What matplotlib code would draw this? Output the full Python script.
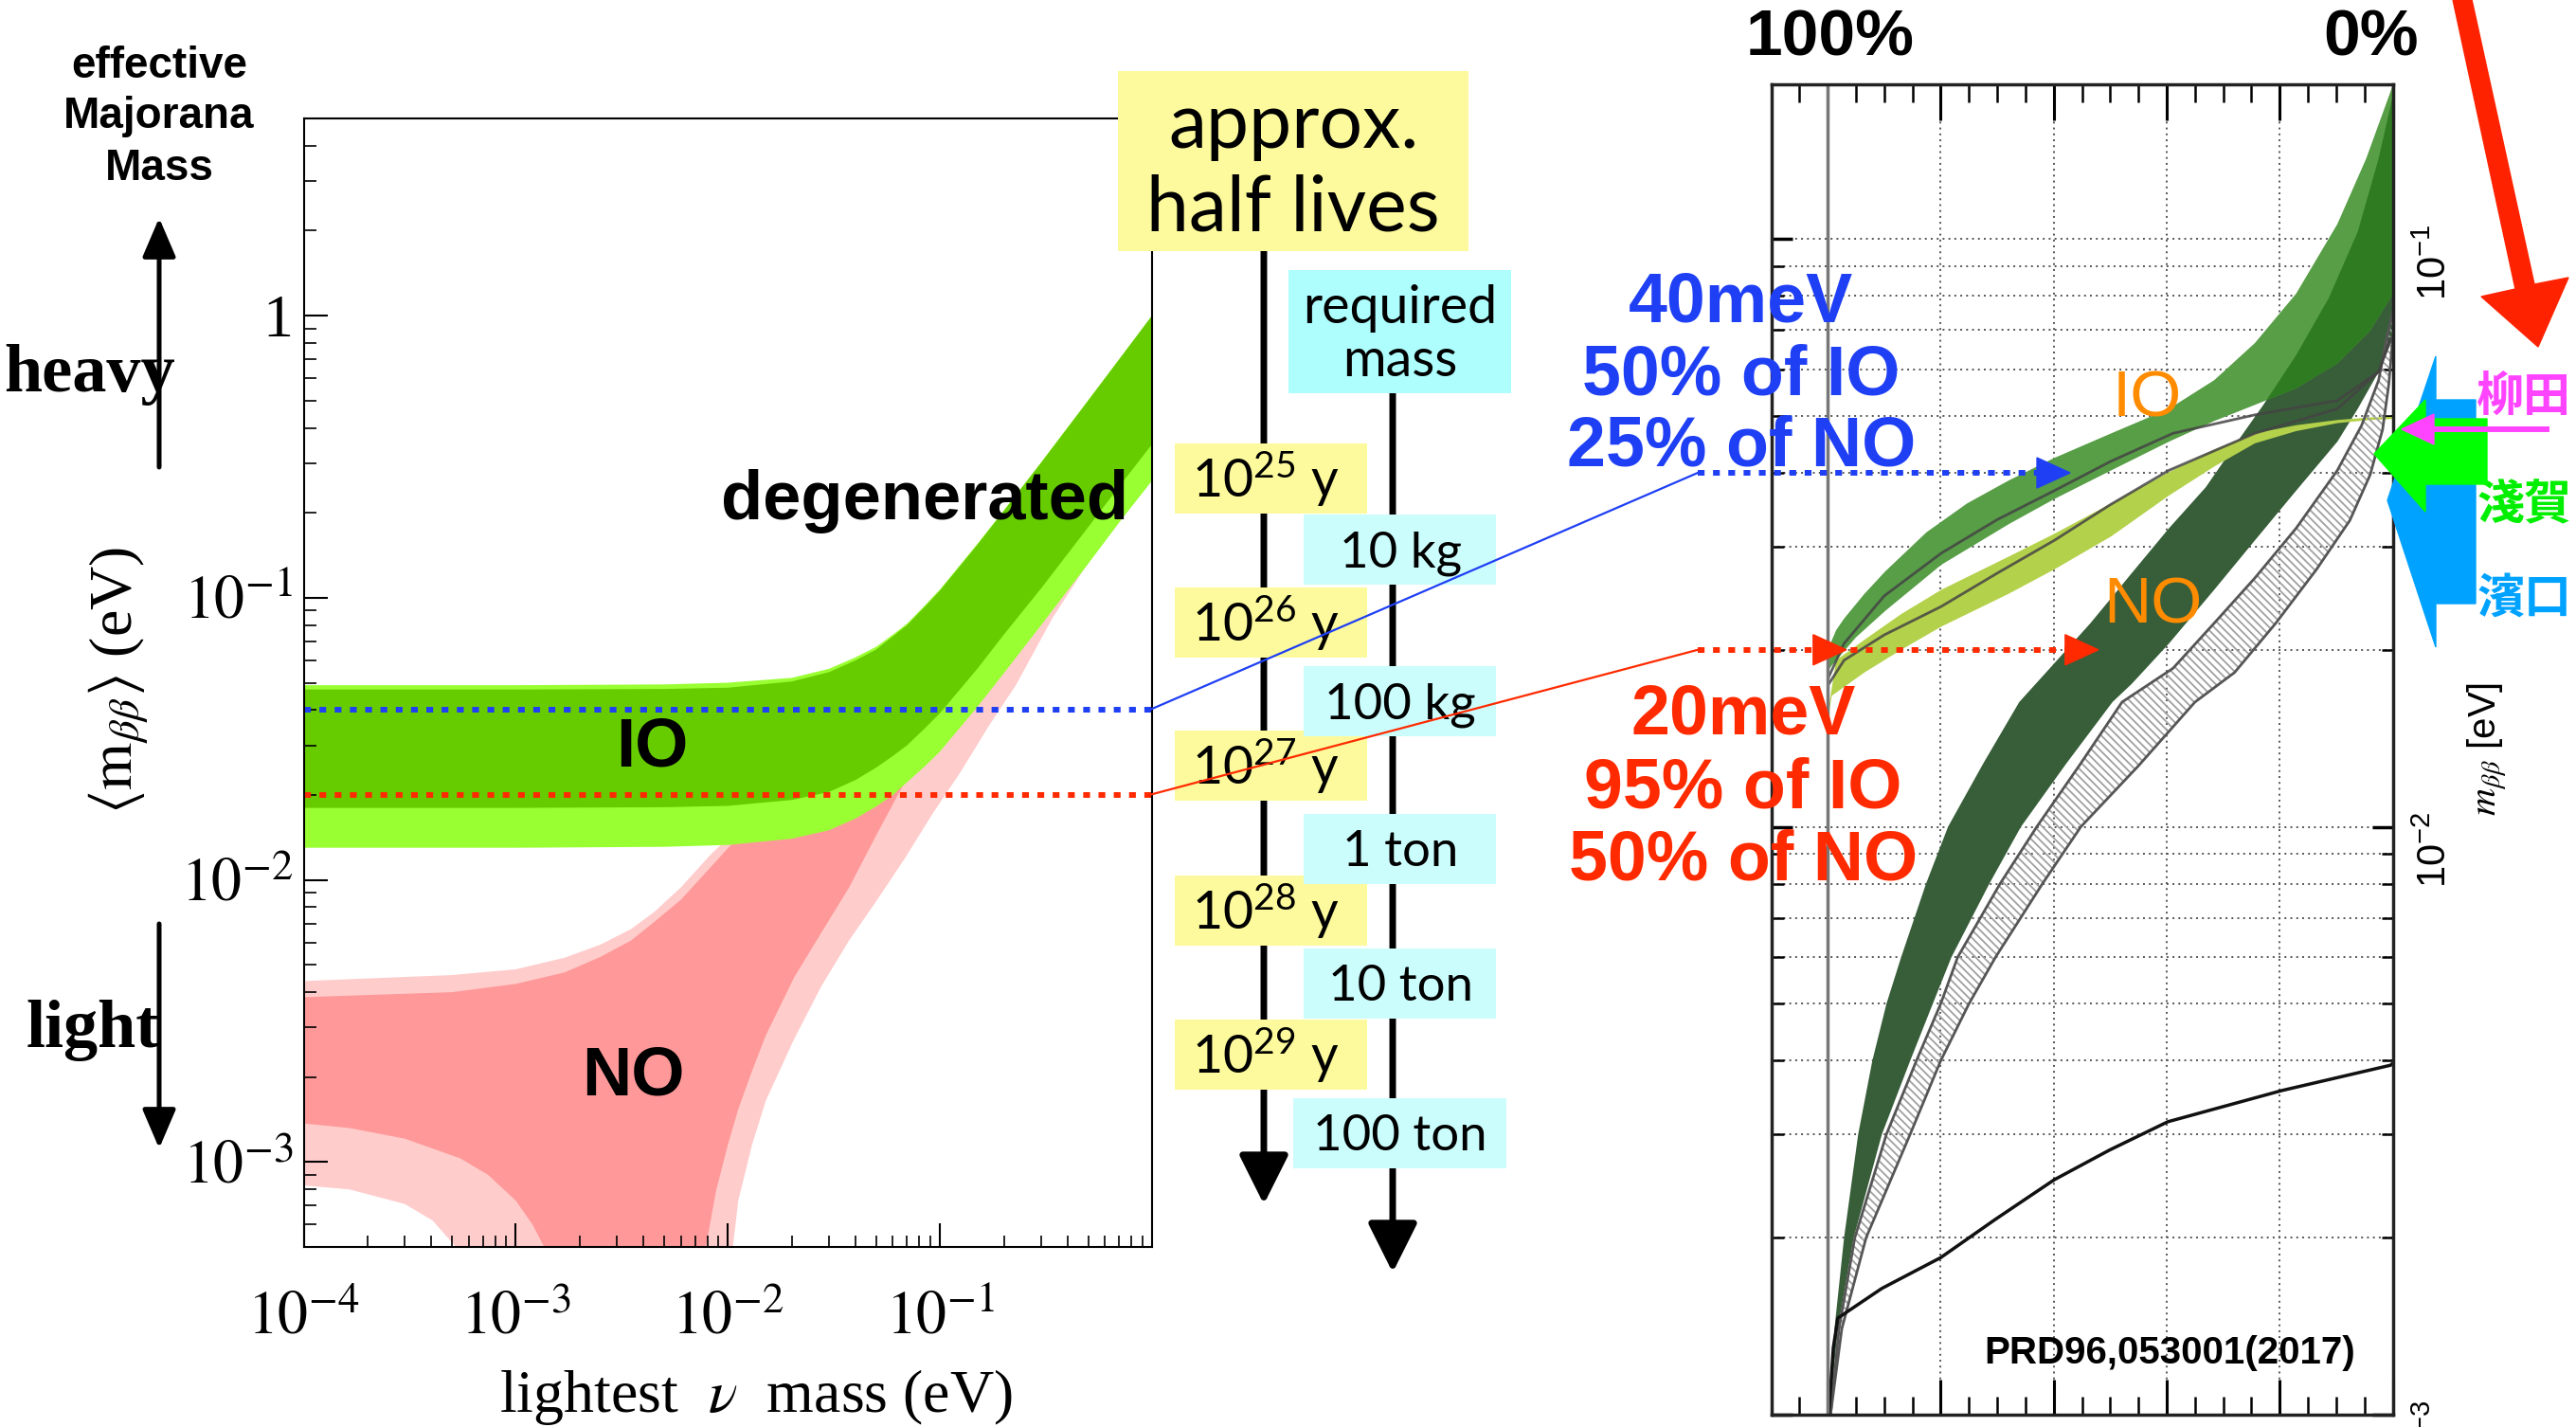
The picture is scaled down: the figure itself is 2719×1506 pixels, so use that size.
import numpy as np
import matplotlib.pyplot as plt
from matplotlib.patches import Polygon, Rectangle
from matplotlib.ticker import LogLocator, NullFormatter, MultipleLocator

plt.rcParams['mathtext.fontset'] = 'stix'
plt.rcParams['hatch.linewidth'] = 1.3

W, H = 2719, 1506

# ---------------- left plot: <m_bb> vs lightest neutrino mass (eV)
m_io = [1e-4, 1e-3, 5e-3, 1e-2, 2e-2, 3e-2, 4e-2, 5e-2, 6e-2, 7e-2, 8.5e-2, 0.1, 0.15, 0.2, 0.3, 0.5, 0.7, 1.0]
io_3s_hi = [0.049, 0.049, 0.0493, 0.050, 0.052, 0.056, 0.0615, 0.067, 0.074, 0.081, 0.094, 0.107, 0.155, 0.204, 0.302, 0.501, 0.70, 1.0]
io_1s_hi = [0.0473, 0.0473, 0.0475, 0.048, 0.0505, 0.0545, 0.060, 0.0655, 0.073, 0.080, 0.093, 0.106, 0.154, 0.203, 0.301, 0.50, 0.70, 1.0]
io_1s_lo = [0.0180, 0.0180, 0.0181, 0.0183, 0.0192, 0.0205, 0.0226, 0.0250, 0.0275, 0.0300, 0.0345, 0.0390, 0.0560, 0.0740, 0.108, 0.178, 0.248, 0.35]
io_3s_lo = [0.0130, 0.0130, 0.0131, 0.0133, 0.0140, 0.0150, 0.0165, 0.0182, 0.0200, 0.0222, 0.0253, 0.0285, 0.0410, 0.0540, 0.0800, 0.132, 0.185, 0.26]

m_no_hi = [1e-4, 5e-4, 1e-3, 1.7e-3, 2.5e-3, 3.5e-3, 4.5e-3, 6e-3, 8.3e-3, 1.1e-2, 2e-2, 5e-2, 0.1, 0.3, 1.0]
no_3s_hi = [0.00438, 0.0046, 0.00482, 0.0053, 0.00589, 0.0067, 0.0077, 0.0094, 0.0123, 0.0150, 0.024, 0.053, 0.103, 0.29, 0.97]
no_1s_hi = [0.00384, 0.0040, 0.00428, 0.0047, 0.00533, 0.0061, 0.0071, 0.0085, 0.0111, 0.0140, 0.023, 0.052, 0.101, 0.29, 0.97]

# lower edges (1e-6 = cancellation, i.e. m_bb -> 0)
m_no3_lo = [1e-4, 1.64e-4, 3.0e-4, 4.06e-4, 5.48e-4, 6.0e-4, 1.0e-2, 1.05e-2, 1.12e-2, 1.3e-2, 1.51e-2,
            2.05e-2, 2.76e-2, 3.73e-2, 5.06e-2, 6.82e-2, 9.25e-2, 0.125, 0.169, 0.228, 0.34, 0.5, 1.0]
no_3s_lo = [0.000826, 0.0008, 0.00071, 0.00062, 0.00048, 1e-6, 1e-6, 0.00048, 0.00073, 0.00115, 0.00165,
            0.00272, 0.0042, 0.0061, 0.0085, 0.0119, 0.0172, 0.0241, 0.0349, 0.049, 0.085, 0.133, 0.262]
m_no1_lo = [1e-4, 1.64e-4, 3.0e-4, 5.48e-4, 7.41e-4, 1.0e-3, 1.2e-3, 1.4e-3, 1.5e-3, 7.6e-3, 7.8e-3,
            8.8e-3, 1.0e-2, 1.12e-2, 1.3e-2, 1.51e-2, 2.05e-2, 2.76e-2, 3.73e-2, 5.06e-2, 7e-2, 0.1, 0.3, 1.0]
no_1s_lo = [0.00137, 0.00132, 0.00121, 0.00103, 0.0009, 0.00073, 0.0006, 0.00048, 1e-6, 1e-6, 0.00048,
            0.00079, 0.00115, 0.00154, 0.0021, 0.00281, 0.0045, 0.0065, 0.0094, 0.0146, 0.023, 0.032, 0.10, 0.33]

x_ticks = [1e-4, 1e-3, 1e-2, 1e-1]
x_labels = [r'$10^{-4}$', r'$10^{-3}$', r'$10^{-2}$', r'$10^{-1}$']
y_ticks = [1, 1e-1, 1e-2, 1e-3]
y_labels = ['1', r'$10^{-1}$', r'$10^{-2}$', r'$10^{-3}$']

thresholds = [0.04, 0.02]  # eV

# ---------------- right plot (PRD96,053001): probability vs m_bb
io_hi_p = [0.998, 0.996, 0.985, 0.971, 0.935, 0.898, 0.825, 0.753, 0.680, 0.599, 0.498, 0.396, 0.316, 0.244, 0.171, 0.098, 0.047, 0.004, 0.0]
io_hi_m = [0.0185, 0.0204, 0.0216, 0.0226, 0.0249, 0.0272, 0.0317, 0.0355, 0.0388, 0.0424, 0.0467, 0.0514, 0.0575, 0.0665, 0.0807, 0.106, 0.137, 0.178, 0.183]
io_lo_p = [0.998, 0.993, 0.95, 0.898, 0.799, 0.680, 0.599, 0.498, 0.396, 0.316, 0.244, 0.171, 0.098, 0.040, 0.004, 0.0]
io_lo_m = [0.0185, 0.0188, 0.0210, 0.0233, 0.0279, 0.0327, 0.0361, 0.0404, 0.0452, 0.0490, 0.0522, 0.0557, 0.0614, 0.0698, 0.0794, 0.080]

yg_hi_p = [0.998, 0.985, 0.935, 0.87, 0.799, 0.680, 0.599, 0.498, 0.396, 0.316, 0.244, 0.171, 0.098, 0.040, 0.0]
yg_hi_m = [0.0160, 0.0192, 0.0208, 0.0230, 0.0253, 0.0288, 0.0315, 0.0355, 0.0401, 0.0438, 0.0467, 0.0482, 0.0492, 0.0497, 0.0498]
yg_lo_p = [0.998, 0.993, 0.935, 0.87, 0.799, 0.680, 0.599, 0.498, 0.396, 0.316, 0.244, 0.171, 0.098, 0.040, 0.0]
yg_lo_m = [0.0155, 0.0167, 0.0183, 0.0200, 0.0219, 0.0249, 0.0274, 0.0312, 0.0366, 0.0410, 0.0449, 0.0471, 0.0486, 0.0492, 0.0494]

no_l_p = [0.997, 0.988, 0.971, 0.946, 0.921, 0.896, 0.870, 0.826, 0.787, 0.725, 0.661, 0.607, 0.535, 0.462, 0.396, 0.331, 0.280, 0.229, 0.171, 0.113, 0.062, 0.025, 0.0]
no_l_m = [0.0010, 0.0014, 0.0020, 0.0030, 0.0040, 0.0050, 0.0060, 0.0080, 0.0100, 0.0128, 0.0163, 0.0186, 0.0222, 0.0270, 0.0322, 0.0378, 0.0445, 0.0522, 0.0634, 0.0794, 0.1028, 0.137, 0.175]
no_r_p = [0.997, 0.982, 0.954, 0.904, 0.854, 0.814, 0.781, 0.714, 0.658, 0.578, 0.496, 0.462, 0.396, 0.316, 0.244, 0.171, 0.098, 0.062, 0.025, 0.0]
no_r_m = [0.0010, 0.0014, 0.0020, 0.0030, 0.0040, 0.0050, 0.0060, 0.0080, 0.0100, 0.0128, 0.0163, 0.0175, 0.0205, 0.0253, 0.0307, 0.0373, 0.0452, 0.0514, 0.0594, 0.0676]

hat_l_p = [0.995, 0.980, 0.952, 0.896, 0.843, 0.800, 0.770, 0.695, 0.630, 0.555, 0.479, 0.389, 0.316, 0.244, 0.171, 0.098, 0.055, 0.025, 0.011, 0.0]
hat_l_m = [0.0010, 0.0014, 0.0020, 0.0030, 0.0040, 0.0050, 0.0060, 0.0080, 0.0100, 0.0127, 0.0163, 0.0186, 0.0222, 0.0265, 0.0322, 0.0404, 0.0482, 0.0575, 0.0676, 0.075]
hat_r_p = [0.995, 0.975, 0.932, 0.854, 0.800, 0.750, 0.703, 0.620, 0.552, 0.450, 0.350, 0.280, 0.207, 0.135, 0.076, 0.040, 0.018, 0.007, 0.0]
hat_r_m = [0.0010, 0.0014, 0.0020, 0.0030, 0.0040, 0.0050, 0.0060, 0.0080, 0.0100, 0.0127, 0.0163, 0.0183, 0.0222, 0.0274, 0.0332, 0.0397, 0.0474, 0.0566, 0.068]

g1_p = [0.998, 0.971, 0.9, 0.799, 0.7, 0.599, 0.5, 0.389, 0.244, 0.098, 0.025, 0.004]
g1_m = [0.0180, 0.0205, 0.0247, 0.0292, 0.0333, 0.0373, 0.0418, 0.0467, 0.0502, 0.0531, 0.0594, 0.0676]
g2_p = [0.998, 0.971, 0.9, 0.799, 0.7, 0.599, 0.5, 0.396, 0.244, 0.098, 0.025, 0.004]
g2_m = [0.0175, 0.0192, 0.0212, 0.0237, 0.0270, 0.0307, 0.0353, 0.0404, 0.0467, 0.0514, 0.0594, 0.0676]

bk_p = [0.998, 0.990, 0.982, 0.904, 0.800, 0.703, 0.599, 0.501, 0.398, 0.196, 0.004, 0.0]
bk_m = [0.0010, 0.0013, 0.00146, 0.00164, 0.00185, 0.00215, 0.00251, 0.00282, 0.00315, 0.00356, 0.00393, 0.00396]

blue_tips = [0.571]          # probability reached at 40 meV
red_tips = [0.967, 0.521]    # probability reached at 20 meV

r_ticks = [1e-3, 1e-2, 1e-1]
r_labels = [r'$\mathregular{10^{-3}}$', r'$\mathregular{10^{-2}}$', r'$\mathregular{10^{-1}}$']

# ---------------- middle column
half_lives = ['25', '26', '27', '28', '29']
masses = ['10 kg', '100 kg', '1 ton', '10 ton', '100 ton']

BLUE = '#1f3ff5'
RED = '#ff2a00'
ORANGE = '#ff8c00'
DOT = (0, (1.2, 1.5))

fig = plt.figure(figsize=(W / 100, H / 100), dpi=100)


def px_box(l, t, r, b):
    return [l / W, 1 - b / H, (r - l) / W, (b - t) / H]


# ---- left axes
ax = fig.add_axes(px_box(320.5, 125, 1216, 1316))
ax.set_xscale('log')
ax.set_yscale('log')
ax.set_xlim(1e-4, 1)
ax.set_ylim(5e-4, 5)

ax.fill(np.concatenate([m_no_hi, m_no3_lo[::-1]]), np.concatenate([no_3s_hi, no_3s_lo[::-1]]), color='#ffcccc', lw=0)
ax.fill(np.concatenate([m_no_hi, m_no1_lo[::-1]]), np.concatenate([no_1s_hi, no_1s_lo[::-1]]), color='#ff9999', lw=0)
ax.fill(np.concatenate([m_io, m_io[::-1]]), np.concatenate([io_3s_hi, io_3s_lo[::-1]]), color='#99ff33', lw=0)
ax.fill(np.concatenate([m_io, m_io[::-1]]), np.concatenate([io_1s_hi, io_1s_lo[::-1]]), color='#66cc00', lw=0)

ax.axhline(thresholds[0], color=BLUE, ls=DOT, lw=4.3)
ax.axhline(thresholds[1], color=RED, ls=DOT, lw=4.3)

ax.set_xticks(x_ticks, x_labels)
ax.set_yticks(y_ticks, y_labels)
ax.xaxis.set_minor_locator(LogLocator(base=10, subs=np.arange(2, 10), numticks=30))
ax.yaxis.set_minor_locator(LogLocator(base=10, subs=np.arange(2, 10), numticks=30))
ax.xaxis.set_minor_formatter(NullFormatter())
ax.yaxis.set_minor_formatter(NullFormatter())
ax.tick_params(which='both', direction='in', top=False, right=False,
               labelsize=46, labelfontfamily='Liberation Serif')
ax.tick_params(which='major', length=18, width=1.5)
ax.tick_params(which='minor', length=9, width=1.2)
ax.tick_params(axis='x', pad=34)
ax.tick_params(axis='y', pad=8)
for s in ax.spines.values():
    s.set_linewidth(1.5)

# ---- right axes (probability plot)
ax2 = fig.add_axes(px_box(1869.5, 88.7, 2525.6, 1493))
ax2.set_yscale('log')
ax2.set_xlim(1.1, 0)
ax2.set_ylim(1e-3, 0.1834)
ax2.set_axisbelow(True)

no_poly_p = np.concatenate([no_l_p, no_r_p[::-1]])
no_poly_m = np.concatenate([no_l_m, no_r_m[::-1]])
ax2.fill(no_poly_p, no_poly_m, color='#385e39', lw=0)
io_patch = ax2.fill(np.concatenate([io_hi_p, io_lo_p[::-1]]), np.concatenate([io_hi_m, io_lo_m[::-1]]),
                    color='#579e46', lw=0)[0]
overlap = ax2.fill(no_poly_p, no_poly_m, color='#2f7b21', lw=0)[0]
overlap.set_clip_path(io_patch)
ax2.fill(np.concatenate([yg_hi_p, yg_lo_p[::-1]]), np.concatenate([yg_hi_m, yg_lo_m[::-1]]),
         color='#b4d14b', lw=0)
ax2.fill(np.concatenate([hat_l_p, hat_r_p[::-1]]), np.concatenate([hat_l_m, hat_r_m[::-1]]),
         facecolor='none', edgecolor='#a0a0a0', hatch='\\\\\\\\', lw=0)
ax2.plot(hat_l_p, hat_l_m, color='#555555', lw=2)
ax2.plot(hat_r_p, hat_r_m, color='#555555', lw=2)
ax2.plot(g1_p, g1_m, color='#444444', lw=2, alpha=0.85)
ax2.plot(g2_p, g2_m, color='#444444', lw=2, alpha=0.85)
ax2.plot(bk_p, bk_m, color='#111111', lw=2.5)
ax2.axvline(1.0, color='#777777', lw=2.5)

ax2.xaxis.set_major_locator(MultipleLocator(0.2))
ax2.xaxis.set_minor_locator(MultipleLocator(0.05))
ax2.set_yticks(r_ticks, r_labels)
ax2.yaxis.set_minor_locator(LogLocator(base=10, subs=np.arange(2, 10), numticks=30))
ax2.yaxis.set_minor_formatter(NullFormatter())
ax2.grid(axis='y', which='both', ls=(0, (1, 2.2)), color='#555555', lw=1.4)
ax2.grid(axis='x', which='major', ls=(0, (1, 2.2)), color='#555555', lw=1.4)
ax2.tick_params(axis='x', which='major', direction='in', length=27, width=2.2,
                top=True, bottom=True, labelbottom=False)
ax2.tick_params(axis='x', which='minor', direction='in', length=14, width=1.8, top=True, bottom=True)
ax2.tick_params(axis='y', which='major', direction='in', length=16, width=2.5, left=True, right=True,
                labelleft=False, labelright=True, labelrotation=90, labelsize=30,
                labelfontfamily='Liberation Sans', pad=18)
ax2.tick_params(axis='y', which='minor', direction='in', length=9, width=1.8, left=True, right=True)
ax2.yaxis.set_label_position('right')
ax2.set_ylabel(r'$m_{\beta\beta}$ [eV]', fontsize=29, labelpad=8, family='Liberation Sans')
for s in ax2.spines.values():
    s.set_linewidth(2.5)
    s.set_color('#222222')

# ---- overlay in pixel coordinates for the slide annotations
ov = fig.add_axes([0, 0, 1, 1])
ov.set_xlim(0, W)
ov.set_ylim(H, 0)
ov.axis('off')
ov.patch.set_alpha(0)


def px(a, x, y):
    return ov.transData.inverted().transform(a.transData.transform((x, y)))


# left plot labels
ov.text(976, 529, 'degenerated', ha='center', va='center', fontsize=52, fontweight='bold', family='Liberation Sans')
ov.text(688, 789, 'IO', ha='center', va='center', fontsize=52, fontweight='bold', family='Liberation Sans')
ov.text(668, 1136, 'NO', ha='center', va='center', fontsize=52, fontweight='bold', family='Liberation Sans')
for txt, yb in zip(['effective', 'Majorana', 'Mass'], [82, 135, 190]):
    ov.text(168, yb, txt, ha='center', va='baseline', fontsize=33, fontweight='bold', family='Liberation Sans')
ov.text(4, 413, 'heavy', ha='left', va='baseline', fontsize=52, fontweight='bold', family='Liberation Serif')
ov.text(28, 1105, 'light', ha='left', va='baseline', fontsize=52, fontweight='bold', family='Liberation Serif')
arr = dict(arrowstyle='-|>,head_length=0.7,head_width=0.3', lw=3.6, color='k', shrinkA=0, shrinkB=0, mutation_scale=36)
ov.annotate('', xy=(168, 230), xytext=(168, 493), arrowprops=arr)
ov.annotate('', xy=(168, 1212), xytext=(168, 975), arrowprops=arr)
ov.text(125, 718, r'$\langle\mathrm{m}_{\beta\beta}\rangle$ (eV)', rotation=90, ha='center', va='center',
        fontsize=46, family='Liberation Serif')
ov.text(798, 1474, r'lightest  $\nu$  mass (eV)', ha='center', va='center', fontsize=46, family='Liberation Serif')

# middle column
arr2 = dict(arrowstyle='-|>,head_length=0.8,head_width=0.4', lw=5, color='k', shrinkA=0, shrinkB=0, mutation_scale=40)
ov.annotate('', xy=(1334, 1271), xytext=(1334, 264), arrowprops=arr2, zorder=1)
ov.annotate('', xy=(1470, 1343), xytext=(1470, 415), arrowprops=arr2, zorder=1)
ov.add_patch(Rectangle((1180, 75), 370, 190, fc='#fcfa9c', ec='none', zorder=2))
ov.text(1366, 156, 'approx.', ha='center', va='baseline', fontsize=58, family='Lato', zorder=3)
ov.text(1365, 243, 'half lives', ha='center', va='baseline', fontsize=58, family='Lato', zorder=3)
ov.add_patch(Rectangle((1360, 285), 235, 130, fc='#aefefe', ec='none', zorder=2))
ov.text(1478, 341, 'required', ha='center', va='baseline', fontsize=40, family='Lato', zorder=3)
ov.text(1478, 397, 'mass', ha='center', va='baseline', fontsize=40, family='Lato', zorder=3)

hl_y = [505, 657, 808, 961, 1113]
for e, yc in zip(half_lives, hl_y):
    ov.add_patch(Rectangle((1240, yc - 37), 203, 74, fc='#fcfa9c', ec='none', zorder=2))
    ov.text(1258, yc + 20, r'$\mathregular{10^{%s}}$ y' % e, ha='left', va='baseline', fontsize=40,
            family='Lato', zorder=3)
ms_y = [580, 740, 896, 1038, 1196]
ms_x = [(1376, 1579), (1376, 1579), (1376, 1579), (1376, 1579), (1365, 1590)]
for lab, yc, (x0, x1) in zip(masses, ms_y, ms_x):
    ov.add_patch(Rectangle((x0, yc - 37), x1 - x0, 74, fc='#ccfdfd', ec='none', zorder=2))
    ov.text(1478, yc + 18, lab, ha='center', va='baseline', fontsize=38, family='Lato', zorder=3)

# threshold connectors: left plot -> right plot
x_start = 1792
for thr, col, tips in [(thresholds[0], BLUE, blue_tips), (thresholds[1], RED, red_tips)]:
    xl, yl = px(ax, 1.0, thr)
    _, yr = px(ax2, 0.5, thr)
    ov.plot([xl - 3, x_start], [yl, yr], color=col, lw=1.6, zorder=5)
    x_end, _ = px(ax2, min(tips), thr)
    ov.plot([x_start, x_end - 20], [yr, yr], color=col, ls=DOT, lw=4.3, zorder=5)
    for tp in tips:
        xt, _ = px(ax2, tp, thr)
        ov.add_patch(Polygon([(xt, yr), (xt - 35, yr - 16), (xt - 35, yr + 16)], closed=True, color=col, zorder=6))

for txt, yb in zip(['40meV', '50% of IO', '25% of NO'], [339, 416, 491]):
    ov.text(1838, yb, txt, ha='center', va='baseline', fontsize=53, fontweight='bold',
            family='Liberation Sans', color=BLUE, zorder=7)
for txt, yb in zip(['20meV', '95% of IO', '50% of NO'], [774, 852, 928]):
    ov.text(1840, yb, txt, ha='center', va='baseline', fontsize=53, fontweight='bold',
            family='Liberation Sans', color=RED, zorder=7)

# right plot labels
ov.text(1932, 40, '100%', ha='center', va='center', fontsize=50, fontweight='bold', family='Liberation Sans')
ov.text(2503, 40, '0%', ha='center', va='center', fontsize=50, fontweight='bold', family='Liberation Sans')
ov.text(2266, 421, 'IO', ha='center', va='center', fontsize=50, family='Liberation Sans', color=ORANGE)
ov.text(2272, 639, 'NO', ha='center', va='center', fontsize=50, family='Liberation Sans', color=ORANGE)
ov.text(2290, 1428, 'PRD96,053001(2017)', ha='center', va='center', fontsize=29, fontweight='bold',
        family='Liberation Sans')

# experiment markers on the right edge
ov.add_patch(Polygon([(2588, -5), (2655, 305), (2619, 313), (2679, 366), (2711, 293), (2675, 300), (2608, -5)],
                     closed=True, color='#ff2200', zorder=4))
ov.add_patch(Polygon([(2613, 422), (2571, 422), (2571, 376), (2520, 528), (2571, 683), (2571, 637), (2613, 637)],
                     closed=True, color='#00a2ff', zorder=4))
ov.add_patch(Polygon([(2625, 442), (2560, 442), (2560, 422), (2506, 479), (2560, 540), (2560, 511), (2625, 511)],
                     closed=True, color='#00ff00', zorder=5))
ov.plot([2688, 2565], [453, 453], color='#ff44ff', lw=4.3, zorder=6)
ov.add_patch(Polygon([(2569, 437), (2535, 453), (2569, 469)], closed=True, color='#ff44ff', zorder=6))
cjk = ['Noto Sans CJK JP', 'DejaVu Sans']
ov.text(2664, 419, '柳田', ha='center', va='center', fontsize=36, fontweight='bold', family=cjk, color='#ff44ff')
ov.text(2665, 534, '淺賀', ha='center', va='center', fontsize=36, fontweight='bold', family=cjk, color='#00ee00')
ov.text(2665, 632, '濱口', ha='center', va='center', fontsize=36, fontweight='bold', family=cjk, color='#00a2ff')

fig.savefig('out.png', dpi=100)
